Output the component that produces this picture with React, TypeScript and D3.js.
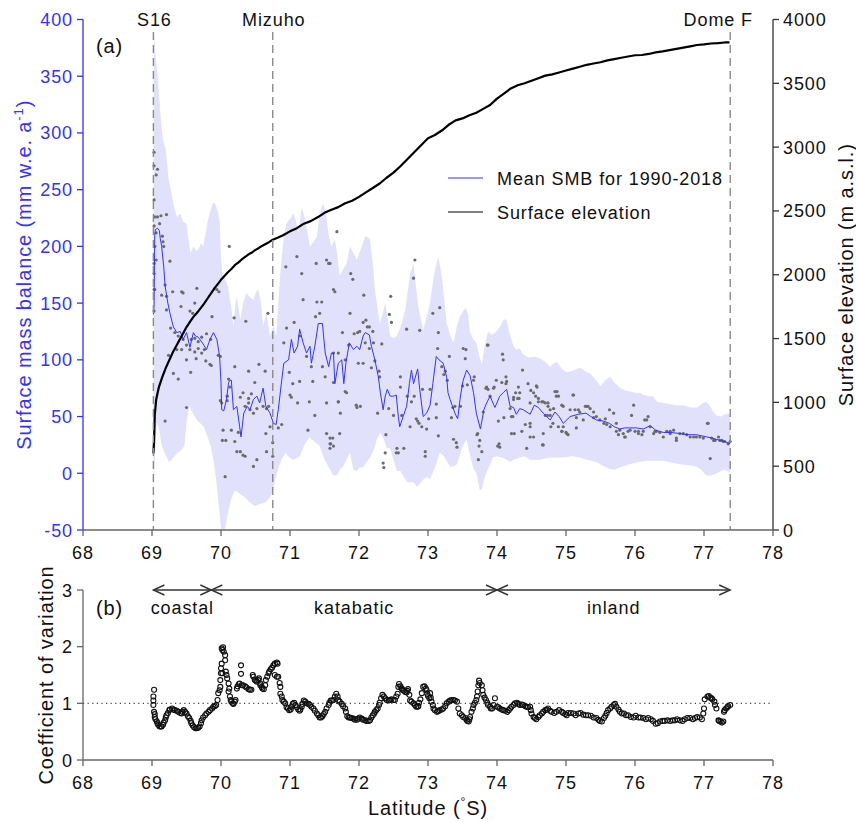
import React from "react";
import * as d3 from "d3";

// ---- data ----
const latTicks = [68, 69, 70, 71, 72, 73, 74, 75, 76, 77, 78];
const smbTicks = [-50, 0, 50, 100, 150, 200, 250, 300, 350, 400];
const elevTicks = [0, 500, 1000, 1500, 2000, 2500, 3000, 3500, 4000];
const cvTicks = [0, 1, 2, 3];

const stations = [
  { name: "S16", lat: 69.02 },
  { name: "Mizuho", lat: 70.75 },
  { name: "Dome F", lat: 77.38 },
];
const zoneBounds = [69.02, 69.86, 74.0, 77.38];
const zoneNames = ["coastal", "katabatic", "inland"];

// [lat, mm w.e. a-1]
const smbMean: [number, number][] = [
  [69.02, 140], [69.03, 148], [69.04, 210], [69.05, 215], [69.08, 216], [69.106, 214], [69.12, 207], [69.14, 200],
  [69.17, 182], [69.19, 165], [69.23, 150], [69.26, 141], [69.31, 129], [69.36, 124], [69.41, 125], [69.45, 118],
  [69.5, 124], [69.55, 111], [69.6, 124], [69.63, 121], [69.67, 120], [69.74, 114], [69.79, 109], [69.84, 118],
  [69.89, 124], [69.94, 118], [69.98, 103], [70.0, 80], [70.01, 56], [70.04, 55], [70.08, 65], [70.11, 80],
  [70.13, 82], [70.15, 82], [70.18, 56], [70.23, 59], [70.27, 41], [70.29, 32], [70.33, 53], [70.38, 59],
  [70.42, 56], [70.47, 65], [70.52, 68], [70.56, 62], [70.61, 75], [70.65, 59], [70.71, 53], [70.76, 44],
  [70.8, 43], [70.83, 56], [70.88, 82], [70.91, 97], [70.98, 100], [71.02, 118], [71.06, 106], [71.11, 112],
  [71.14, 127], [71.19, 115], [71.24, 106], [71.29, 112], [71.31, 97], [71.36, 112], [71.41, 132], [71.47, 132],
  [71.51, 106], [71.56, 94], [71.6, 106], [71.63, 106], [71.65, 79], [71.7, 97], [71.75, 100], [71.78, 79],
  [71.81, 97], [71.86, 115], [71.92, 109], [71.97, 112], [72.01, 109], [72.06, 121], [72.09, 124], [72.15, 122],
  [72.18, 112], [72.23, 100], [72.28, 85], [72.31, 71], [72.35, 56], [72.38, 68], [72.41, 74], [72.45, 68],
  [72.5, 68], [72.54, 69], [72.57, 50], [72.59, 41], [72.64, 50], [72.69, 59], [72.73, 79], [72.76, 91],
  [72.79, 79], [72.85, 92], [72.88, 74], [72.93, 50], [72.98, 53], [73.03, 60], [73.07, 79], [73.12, 103],
  [73.16, 100], [73.22, 97], [73.27, 85], [73.29, 71], [73.32, 65], [73.39, 53], [73.43, 48], [73.47, 68],
  [73.51, 82], [73.56, 91], [73.61, 86], [73.66, 71], [73.7, 53], [73.76, 39], [73.81, 56], [73.85, 62],
  [73.9, 68], [73.94, 62], [73.97, 58], [74.04, 68], [74.09, 71], [74.14, 74], [74.19, 59], [74.24, 58],
  [74.28, 52], [74.33, 57], [74.38, 56], [74.48, 52], [74.54, 60], [74.6, 58], [74.67, 53], [74.77, 47],
  [74.84, 54], [74.9, 50], [74.96, 44], [75.06, 50], [75.18, 52], [75.29, 53], [75.36, 50], [75.44, 47],
  [75.54, 46], [75.63, 44], [75.7, 41], [75.78, 39], [75.85, 40], [75.92, 40], [76.02, 40], [76.12, 39],
  [76.22, 42], [76.3, 38], [76.41, 36], [76.52, 36], [76.65, 35], [76.77, 34], [76.89, 34], [76.97, 33],
  [77.04, 32], [77.12, 31], [77.23, 29], [77.3, 28], [77.38, 26],
];

const smbUpper: [number, number][] = [
  [69.02, 300], [69.03, 389], [69.05, 370], [69.07, 358], [69.1, 335], [69.13, 310], [69.16, 294], [69.2, 285],
  [69.24, 260], [69.28, 247], [69.32, 235], [69.36, 226], [69.41, 229], [69.45, 222], [69.5, 220], [69.53, 205],
  [69.56, 194], [69.6, 200], [69.64, 196], [69.67, 197], [69.71, 203], [69.74, 200], [69.78, 212], [69.81, 223],
  [69.85, 232], [69.88, 238], [69.91, 238], [69.95, 232], [69.98, 223], [70.0, 190], [70.02, 174], [70.06, 171],
  [70.1, 165], [70.14, 150], [70.18, 130], [70.21, 150], [70.23, 156], [70.28, 135], [70.32, 150], [70.37, 159],
  [70.42, 155], [70.47, 153], [70.51, 160], [70.54, 162], [70.58, 150], [70.61, 130], [70.66, 141], [70.71, 121],
  [70.76, 130], [70.8, 121], [70.83, 150], [70.86, 177], [70.91, 209], [70.95, 220], [70.98, 223], [71.02, 226],
  [71.05, 229], [71.09, 222], [71.12, 212], [71.17, 235], [71.22, 223], [71.26, 210], [71.29, 200], [71.34, 204],
  [71.39, 209], [71.43, 229], [71.48, 238], [71.53, 226], [71.56, 210], [71.6, 200], [71.65, 206], [71.68, 195],
  [71.72, 174], [71.77, 180], [71.82, 185], [71.87, 200], [71.92, 194], [71.97, 188], [72.04, 200], [72.09, 209],
  [72.13, 208], [72.16, 206], [72.2, 185], [72.23, 162], [72.27, 145], [72.3, 132], [72.34, 140], [72.38, 150],
  [72.42, 135], [72.45, 121], [72.5, 119], [72.55, 121], [72.62, 132], [72.67, 144], [72.71, 162], [72.74, 176],
  [72.79, 185], [72.82, 168], [72.86, 147], [72.9, 135], [72.93, 126], [72.98, 138], [73.03, 150], [73.07, 168],
  [73.1, 179], [73.15, 191], [73.2, 174], [73.24, 150], [73.27, 132], [73.32, 122], [73.37, 115], [73.42, 130],
  [73.46, 138], [73.5, 142], [73.54, 146], [73.58, 140], [73.61, 124], [73.66, 118], [73.7, 115], [73.75, 102],
  [73.78, 96], [73.82, 112], [73.87, 125], [73.93, 122], [73.99, 125], [74.05, 130], [74.1, 136], [74.14, 135],
  [74.19, 121], [74.24, 112], [74.28, 109], [74.33, 110], [74.38, 105], [74.43, 103], [74.48, 102], [74.55, 103],
  [74.63, 101], [74.7, 98], [74.77, 94], [74.82, 97], [74.87, 98], [74.94, 92], [75.01, 89], [75.08, 90],
  [75.15, 92], [75.21, 93], [75.28, 90], [75.35, 88], [75.42, 83], [75.5, 77], [75.57, 82], [75.64, 85],
  [75.7, 80], [75.79, 75], [75.86, 73], [75.93, 72], [76.0, 71], [76.07, 71], [76.12, 69], [76.2, 68],
  [76.26, 68], [76.32, 63], [76.41, 62], [76.5, 61], [76.6, 60], [76.7, 60], [76.8, 58], [76.9, 58],
  [76.97, 61], [77.03, 63], [77.08, 60], [77.13, 55], [77.18, 51], [77.25, 50], [77.3, 52], [77.38, 53],
];

const smbLower: [number, number][] = [
  [69.02, -25], [69.04, 10], [69.07, 45], [69.1, 40], [69.14, 25], [69.18, 18], [69.25, 10], [69.31, 14],
  [69.37, 18], [69.42, 20], [69.47, 24], [69.5, 45], [69.54, 59], [69.6, 52], [69.65, 47], [69.7, 44],
  [69.75, 41], [69.8, 33], [69.85, 24], [69.9, 8], [69.93, -6], [69.97, -30], [70.0, -48], [70.03, -55],
  [70.06, -48], [70.1, -35], [70.15, -22], [70.2, -15], [70.27, -18], [70.34, -21], [70.41, -25], [70.49, -29],
  [70.56, -27], [70.64, -26], [70.7, -22], [70.74, -18], [70.79, -5], [70.84, 6], [70.89, 14], [70.94, 18],
  [70.99, 14], [71.04, 12], [71.09, 13], [71.14, 15], [71.21, 25], [71.28, 32], [71.35, 28], [71.43, 24],
  [71.5, 12], [71.58, 3], [71.63, -2], [71.68, -2], [71.72, 3], [71.77, 6], [71.82, 12], [71.87, 18],
  [71.92, 3], [71.97, 2], [72.01, 5], [72.06, 5], [72.11, 10], [72.16, 14], [72.21, 20], [72.26, 30],
  [72.31, 36], [72.36, 30], [72.4, 22], [72.45, 22], [72.5, 12], [72.55, 2], [72.6, 2], [72.65, -3],
  [72.7, -8], [72.79, -8], [72.84, -12], [72.9, -8], [72.94, -5], [72.98, -3], [73.03, -5], [73.1, 5],
  [73.17, 18], [73.22, 16], [73.28, 10], [73.32, 6], [73.37, 6], [73.42, 8], [73.46, 16], [73.51, 25],
  [73.56, 30], [73.61, 15], [73.66, 4], [73.7, 0], [73.75, -15], [73.78, -14], [73.83, -2], [73.88, 5],
  [73.94, 14], [74.0, 15], [74.07, 14], [74.14, 12], [74.19, 10], [74.24, 12], [74.33, 14], [74.4, 15],
  [74.48, 12], [74.55, 12], [74.62, 12], [74.7, 13], [74.77, 14], [74.86, 14], [74.96, 14], [75.08, 15],
  [75.2, 14], [75.3, 12], [75.44, 10], [75.55, 6], [75.63, 4], [75.7, 3], [75.78, 5], [75.92, 8],
  [76.05, 10], [76.17, 11], [76.3, 11], [76.41, 11], [76.55, 9], [76.65, 8], [76.78, 7], [76.89, 6],
  [76.96, 3], [77.03, -2], [77.1, -2], [77.19, 0], [77.28, 3], [77.38, 1],
];

// individual-site SMB observations
const smbPoints: [number, number][] = [
  [69.03, 283], [69.03, 271], [69.06, 263], [69.08, 268], [69.03, 241], [69.04, 226], [69.08, 226], [69.13, 227],
  [69.21, 228], [69.03, 218], [69.11, 220], [69.15, 209], [69.16, 204], [69.17, 200], [69.04, 200], [69.06, 212],
  [69.26, 187], [69.03, 185], [69.06, 188], [69.03, 176], [69.03, 162], [69.04, 162], [69.03, 143], [69.19, 166],
  [69.21, 156], [69.3, 160], [69.14, 157], [69.43, 160], [69.45, 159], [69.65, 163], [69.42, 147], [69.55, 143],
  [69.59, 141], [69.62, 150], [69.21, 144], [69.27, 128], [69.33, 124], [69.38, 121], [69.45, 118], [69.5, 113],
  [69.57, 118], [69.62, 119], [69.67, 116], [69.72, 120], [69.79, 123], [69.85, 118], [69.36, 109], [69.43, 109],
  [69.55, 109], [69.62, 107], [69.67, 110], [69.72, 106], [69.76, 109], [69.78, 99], [69.84, 96], [69.86, 95],
  [69.24, 104], [69.31, 88], [69.38, 83], [69.5, 100], [69.56, 89], [69.64, 101], [69.5, 58], [69.19, 46],
  [69.87, 138], [69.94, 162], [69.97, 160], [69.96, 104], [69.99, 103], [70.12, 200], [70.19, 137], [70.2, 94],
  [70.36, 134], [70.4, 90], [70.68, 141], [70.11, 83], [70.13, 76], [70.09, 68], [69.99, 64], [70.01, 62],
  [70.09, 64], [70.28, 67], [70.32, 71], [70.4, 66], [70.44, 70], [70.49, 80], [70.55, 96], [70.64, 90],
  [70.69, 59], [70.35, 59], [70.4, 62], [70.42, 56], [70.47, 53], [70.52, 57], [70.61, 59], [70.66, 57],
  [70.03, 38], [70.15, 38], [70.25, 36], [70.07, 29], [70.02, 29], [70.2, 28], [70.23, 19], [70.28, 19],
  [70.32, 16], [70.35, 15], [70.52, 12], [70.47, 6], [70.66, 19], [70.71, 41], [70.75, 27], [70.75, 15],
  [70.83, 40], [70.88, 43], [70.65, 35], [70.06, -3], [70.91, 115], [70.95, 128], [71.06, 133], [71.14, 121],
  [71.19, 153], [71.39, 151], [71.46, 151], [71.43, 141], [71.37, 138], [71.38, 185], [71.53, 188], [71.56, 185],
  [71.68, 213], [71.1, 191], [71.17, 176], [70.94, 182], [71.63, 162], [71.63, 106], [71.7, 106], [71.24, 103],
  [71.31, 94], [71.47, 94], [71.51, 85], [71.63, 80], [70.99, 89], [71.04, 79], [71.14, 81], [71.33, 81],
  [71.0, 69], [71.02, 67], [71.11, 62], [71.28, 63], [71.36, 51], [71.53, 62], [71.7, 63], [71.26, 38],
  [71.58, 22], [71.59, 26], [71.62, 31], [71.53, 35], [71.58, 185], [71.65, 160], [71.88, 176], [71.91, 171],
  [71.87, 141], [71.76, 124], [71.93, 123], [71.98, 124], [72.07, 157], [72.06, 133], [72.1, 135], [72.12, 129],
  [72.15, 129], [72.2, 125], [72.46, 156], [72.44, 140], [72.47, 133], [72.33, 114], [72.15, 110], [72.09, 115],
  [72.01, 125], [72.21, 115], [72.23, 99], [72.18, 93], [72.29, 90], [72.3, 85], [72.06, 97], [71.99, 97],
  [71.85, 113], [71.8, 100], [72.81, 188], [72.79, 172], [72.88, 126], [72.69, 127], [73.07, 141], [73.17, 146],
  [73.15, 124], [73.14, 110], [73.2, 94], [73.25, 90], [73.28, 82], [73.23, 87], [73.31, 103], [73.51, 110],
  [73.55, 109], [73.54, 101], [73.5, 77], [73.57, 78], [73.67, 85], [73.66, 82], [73.86, 113], [74.08, 105],
  [74.09, 100], [74.13, 85], [74.13, 79], [74.07, 80], [73.99, 82], [73.96, 76], [73.87, 74], [73.84, 75],
  [74.37, 91], [74.45, 79], [74.49, 73], [74.33, 71], [74.3, 66], [74.24, 67], [74.23, 50], [74.1, 49],
  [74.02, 46], [74.21, 35], [74.25, 35], [74.36, 37], [74.43, 22], [74.48, 32], [74.48, 41], [74.03, 26],
  [74.01, 24], [71.7, 63], [71.73, 53], [71.8, 72], [71.82, 71], [71.97, 58], [71.96, 60], [72.02, 59],
  [72.27, 53], [72.43, 57], [72.5, 51], [72.6, 85], [72.6, 76], [72.74, 41], [72.83, 48], [72.85, 46],
  [72.87, 44], [72.91, 41], [72.98, 39], [72.92, 74], [73.03, 74], [73.01, 48], [73.12, 49], [73.15, 33],
  [73.37, 30], [73.34, 49], [73.36, 58], [73.39, 59], [73.41, 27], [73.42, 23], [73.72, 35], [73.71, 34],
  [73.75, 29], [73.74, 24], [73.78, 19], [73.73, 12], [72.39, 34], [72.38, 18], [72.55, 22], [72.57, 18],
  [72.54, 18], [72.65, 22], [72.96, 19], [72.96, 15], [72.35, 9], [72.36, 5], [71.58, 31], [71.58, 26],
  [71.72, 35], [71.63, 24], [72.8, 68], [72.76, 63], [72.62, 51], [72.7, 68], [73.12, 61], [73.47, 59],
  [73.8, 54], [73.87, 113], [73.85, 76], [73.9, 68], [73.95, 75], [74.04, 23], [74.14, 81], [74.19, 57],
  [74.21, 50], [74.24, 65], [74.27, 71], [74.31, 76], [74.32, 66], [74.41, 43], [74.48, 62], [74.48, 44],
  [74.53, 32], [74.58, 76], [74.6, 66], [74.65, 63], [74.67, 25], [74.7, 51], [74.73, 51], [74.77, 51],
  [74.74, 62], [74.82, 57], [74.84, 72], [74.86, 68], [74.89, 41], [74.94, 37], [74.96, 41], [75.01, 35],
  [74.96, 59], [75.11, 69], [75.15, 49], [75.18, 56], [75.2, 54], [75.25, 47], [75.3, 59], [75.35, 57],
  [75.4, 54], [75.44, 50], [75.49, 47], [75.57, 48], [75.64, 41], [75.73, 44], [75.76, 34], [75.85, 32],
  [75.93, 38], [75.95, 51], [75.98, 60], [76.05, 35], [76.12, 37], [76.17, 47], [76.19, 50], [76.27, 35],
  [76.31, 37], [76.41, 32], [76.51, 37], [76.6, 31], [76.7, 35], [76.8, 32], [76.89, 32], [76.99, 31],
  [77.06, 44], [77.09, 13], [77.14, 29], [77.23, 29], [77.28, 28], [77.35, 26], [77.38, 28], [74.57, 77],
  [74.53, 71], [74.56, 68], [74.6, 63], [74.67, 63], [74.7, 62], [74.74, 59], [74.77, 56], [74.87, 72],
  [74.89, 68], [74.94, 60], [74.81, 44], [74.78, 41], [74.67, 35], [74.66, 25], [74.94, 37], [75.0, 36],
  [75.03, 34], [75.1, 69], [75.06, 56], [75.13, 56], [75.15, 40], [75.28, 59], [75.32, 59], [75.4, 49],
  [75.55, 44], [75.59, 43], [75.63, 56], [75.69, 53], [75.73, 37], [75.78, 38], [75.83, 35], [75.86, 32],
  [75.9, 37], [76.0, 37], [76.05, 37], [76.1, 34], [76.14, 47], [76.22, 41], [76.29, 37], [76.36, 36],
  [76.46, 37], [76.51, 35], [76.56, 38], [76.6, 29], [76.65, 35], [76.75, 34], [76.85, 32], [76.94, 32],
  [77.05, 44], [77.11, 31], [77.16, 29], [77.21, 32], [77.26, 29], [77.3, 28],
];

// [lat, m a.s.l.]
const elevation: [number, number][] = [
  [69.02, 600], [69.03, 700], [69.04, 900], [69.06, 1020], [69.1, 1120], [69.15, 1200], [69.2, 1270],
  [69.25, 1330], [69.3, 1390], [69.35, 1440], [69.4, 1490], [69.45, 1540], [69.5, 1590], [69.55, 1630],
  [69.6, 1670], [69.65, 1700], [69.7, 1735], [69.75, 1770], [69.8, 1810], [69.85, 1850], [69.9, 1890],
  [69.95, 1925], [70.0, 1960], [70.05, 1990], [70.1, 2020], [70.15, 2045], [70.2, 2075], [70.25, 2095],
  [70.3, 2120], [70.35, 2140], [70.4, 2160], [70.45, 2175], [70.5, 2195], [70.55, 2210], [70.6, 2228],
  [70.68, 2250], [70.75, 2275], [70.82, 2290], [70.9, 2310], [71.0, 2340], [71.1, 2365], [71.2, 2400],
  [71.3, 2420], [71.4, 2450], [71.5, 2485], [71.6, 2510], [71.7, 2530], [71.8, 2560], [71.9, 2580],
  [72.0, 2610], [72.1, 2645], [72.2, 2680], [72.3, 2715], [72.4, 2760], [72.5, 2800], [72.6, 2850],
  [72.7, 2905], [72.8, 2960], [72.9, 3015], [73.0, 3070], [73.1, 3095], [73.2, 3130], [73.3, 3175],
  [73.4, 3210], [73.5, 3225], [73.6, 3250], [73.7, 3270], [73.8, 3300], [73.9, 3330], [74.0, 3380],
  [74.1, 3420], [74.2, 3460], [74.3, 3485], [74.4, 3500], [74.5, 3520], [74.6, 3540], [74.7, 3560],
  [74.8, 3570], [74.9, 3585], [75.0, 3600], [75.1, 3615], [75.2, 3630], [75.3, 3645], [75.4, 3655],
  [75.5, 3665], [75.6, 3680], [75.7, 3690], [75.8, 3700], [75.9, 3710], [76.0, 3720], [76.1, 3722],
  [76.2, 3730], [76.3, 3742], [76.4, 3750], [76.5, 3760], [76.6, 3770], [76.7, 3780], [76.8, 3790],
  [76.9, 3800], [77.0, 3805], [77.1, 3812], [77.2, 3815], [77.3, 3820], [77.37, 3820],
];

// [lat, coefficient of variation]
const cvPoints: [number, number][] = [
  [69.03, 1.24], [69.02, 1.12], [69.02, 0.97], [69.03, 0.85], [69.04, 0.76], [69.07, 0.68], [69.09, 0.62],
  [69.13, 0.59], [69.16, 0.62], [69.19, 0.7], [69.21, 0.79], [69.25, 0.88], [69.29, 0.91], [69.33, 0.88],
  [69.38, 0.85], [69.43, 0.82], [69.46, 0.88], [69.5, 0.82], [69.54, 0.74], [69.57, 0.65], [69.61, 0.58],
  [69.65, 0.56], [69.69, 0.59], [69.72, 0.7], [69.77, 0.79], [69.82, 0.85], [69.87, 0.91], [69.93, 0.97],
  [69.95, 1.06], [69.96, 1.18], [69.99, 1.29], [70.0, 1.53], [70.01, 1.7], [70.03, 1.99], [70.01, 1.97],
  [70.06, 1.85], [70.02, 1.53], [70.07, 1.56], [70.09, 1.44], [70.11, 1.35], [70.11, 1.21], [70.13, 1.12],
  [70.15, 1.03], [70.18, 0.99], [70.21, 1.06], [70.23, 1.26], [70.27, 1.35], [70.29, 1.52], [70.29, 1.67],
  [70.32, 1.32], [70.37, 1.28], [70.42, 1.24], [70.46, 1.5], [70.49, 1.41], [70.52, 1.38], [70.55, 1.44],
  [70.57, 1.35], [70.59, 1.29], [70.62, 1.25], [70.65, 1.41], [70.69, 1.53], [70.72, 1.6], [70.76, 1.67],
  [70.81, 1.72], [70.78, 1.5], [70.83, 1.47], [70.85, 1.36], [70.86, 1.17], [70.89, 1.06], [70.93, 1.0],
  [70.95, 0.93], [70.99, 0.88], [71.02, 0.94], [71.06, 1.01], [71.1, 0.93], [71.14, 0.87], [71.17, 0.94],
  [71.2, 1.05], [71.24, 1.0], [71.29, 0.97], [71.34, 0.91], [71.39, 0.82], [71.43, 0.75], [71.47, 0.77],
  [71.51, 0.85], [71.56, 0.97], [71.59, 1.05], [71.63, 1.06], [71.67, 1.17], [71.7, 1.06], [71.75, 0.99],
  [71.8, 0.91], [71.83, 0.77], [71.87, 0.75], [71.92, 0.73], [71.97, 0.71], [72.01, 0.75], [72.06, 0.71],
  [72.11, 0.69], [72.16, 0.7], [72.2, 0.79], [72.23, 0.85], [72.27, 0.91], [72.3, 1.01], [72.34, 1.15],
  [72.38, 1.09], [72.43, 1.05], [72.47, 1.07], [72.52, 1.06], [72.56, 1.17], [72.58, 1.34], [72.62, 1.26],
  [72.65, 1.22], [72.69, 1.19], [72.71, 1.25], [72.74, 1.05], [72.79, 1.0], [72.83, 0.94], [72.86, 0.95],
  [72.89, 1.07], [72.93, 1.29], [72.97, 1.26], [72.99, 1.17], [73.03, 1.18], [73.02, 1.09], [73.05, 1.03],
  [73.08, 0.91], [73.13, 0.85], [73.17, 0.88], [73.22, 0.91], [73.27, 1.0], [73.32, 1.05], [73.37, 1.06],
  [73.42, 1.03], [73.44, 0.91], [73.46, 0.82], [73.51, 0.76], [73.56, 0.71], [73.59, 0.68], [73.61, 0.76],
  [73.63, 0.85], [73.66, 0.97], [73.7, 1.06], [73.72, 1.21], [73.74, 1.4], [73.78, 1.32], [73.8, 1.15],
  [73.84, 1.06], [73.87, 0.97], [73.91, 0.91], [73.95, 0.97], [73.97, 1.09], [74.0, 0.94], [74.04, 0.91],
  [74.09, 0.88], [74.15, 0.85], [74.19, 0.91], [74.24, 0.97], [74.29, 1.01], [74.33, 0.97], [74.38, 0.97],
  [74.43, 0.94], [74.48, 0.94], [74.5, 0.82], [74.55, 0.74], [74.6, 0.76], [74.65, 0.82], [74.7, 0.88],
  [74.74, 0.91], [74.79, 0.85], [74.86, 0.85], [74.94, 0.85], [74.99, 0.81], [75.03, 0.83], [75.11, 0.82],
  [75.18, 0.82], [75.25, 0.8], [75.32, 0.79], [75.4, 0.75], [75.47, 0.71], [75.52, 0.68], [75.55, 0.74],
  [75.59, 0.83], [75.64, 0.91], [75.69, 0.97], [75.73, 0.94], [75.78, 0.85], [75.84, 0.82], [75.9, 0.79],
  [75.98, 0.75], [76.05, 0.75], [76.12, 0.74], [76.19, 0.74], [76.26, 0.69], [76.3, 0.64], [76.36, 0.68],
  [76.43, 0.69], [76.51, 0.69], [76.58, 0.7], [76.65, 0.7], [76.72, 0.72], [76.8, 0.74], [76.87, 0.74],
  [76.94, 0.75], [76.99, 0.82], [77.01, 1.07], [77.05, 1.12], [77.09, 1.1], [77.12, 1.07], [77.16, 0.97],
  [77.18, 0.91], [77.21, 0.7], [77.24, 0.68], [77.28, 0.68], [77.29, 0.85], [77.32, 0.91], [77.35, 0.95],
  [77.38, 0.97],
  // second reading pass through the dense chains
  [69.02, 1.05], [69.04, 0.81], [69.05, 0.72], [69.08, 0.65], [69.11, 0.59], [69.14, 0.59], [69.17, 0.66],
  [69.2, 0.75], [69.23, 0.83], [69.26, 0.89], [69.31, 0.89], [69.36, 0.87], [69.41, 0.83], [69.44, 0.85],
  [69.48, 0.85], [69.52, 0.77], [69.56, 0.69], [69.59, 0.61], [69.63, 0.56], [69.67, 0.57], [69.71, 0.65],
  [69.74, 0.75], [69.79, 0.82], [69.84, 0.88], [69.89, 0.94], [69.91, 0.95], [69.98, 1.23], [69.99, 1.41],
  [70.0, 1.62], [70.02, 1.94], [70.04, 1.91], [70.06, 1.76], [70.08, 1.5], [70.12, 1.26], [70.14, 1.06],
  [70.17, 1.0], [70.2, 1.03], [70.24, 1.3], [70.26, 1.34], [70.3, 1.32], [70.35, 1.3], [70.4, 1.25],
  [70.44, 1.24], [70.47, 1.47], [70.51, 1.4], [70.54, 1.41], [70.57, 1.32], [70.6, 1.26], [70.64, 1.32],
  [70.67, 1.47], [70.7, 1.56], [70.74, 1.63], [70.78, 1.7], [70.82, 1.7], [70.81, 1.47], [70.86, 1.29],
  [70.88, 1.12], [70.91, 1.03], [70.97, 0.91], [71.01, 0.89], [71.04, 0.99], [71.08, 0.97], [71.12, 0.89],
  [71.15, 0.89], [71.18, 0.99], [71.22, 1.03], [71.27, 0.99], [71.31, 0.94], [71.36, 0.87], [71.41, 0.79],
  [71.45, 0.75], [71.49, 0.81], [71.53, 0.91], [71.57, 1.01], [71.61, 1.05], [71.65, 1.12], [71.69, 1.12],
  [71.72, 1.03], [71.77, 0.95], [71.81, 0.85], [71.85, 0.75], [71.89, 0.74], [71.94, 0.71], [71.99, 0.73],
  [72.04, 0.73], [72.09, 0.7], [72.14, 0.69], [72.18, 0.75], [72.22, 0.82], [72.25, 0.88], [72.29, 0.97],
  [72.32, 1.09], [72.36, 1.12], [72.4, 1.06], [72.45, 1.06], [72.5, 1.06], [72.54, 1.12], [72.57, 1.29],
  [72.6, 1.3], [72.63, 1.24], [72.67, 1.2], [72.7, 1.22], [72.73, 1.15], [72.76, 1.03], [72.81, 0.97],
  [72.85, 0.94], [72.87, 1.01], [72.91, 1.18], [72.95, 1.3], [72.98, 1.23], [73.0, 1.13], [73.04, 1.1],
  [73.07, 0.97], [73.1, 0.88], [73.15, 0.86], [73.2, 0.89], [73.25, 0.95], [73.3, 1.03], [73.34, 1.06],
  [73.39, 1.05], [73.49, 0.79], [73.54, 0.74], [73.57, 0.69], [73.6, 0.72], [73.65, 0.91], [73.68, 1.01],
  [73.71, 1.12], [73.73, 1.32], [73.75, 1.36], [73.79, 1.23], [73.82, 1.1], [73.86, 1.01], [73.9, 0.94],
  [73.93, 0.91], [74.02, 0.93], [74.07, 0.89], [74.12, 0.87], [74.17, 0.88], [74.21, 0.94], [74.26, 1.0],
  [74.31, 0.99], [74.36, 0.98], [74.41, 0.95], [74.45, 0.93], [74.49, 0.88], [74.53, 0.76], [74.57, 0.72],
  [74.62, 0.79], [74.67, 0.85], [74.72, 0.89], [74.77, 0.87], [74.83, 0.83], [74.9, 0.88], [74.96, 0.83],
  [75.01, 0.79], [75.07, 0.83], [75.14, 0.79], [75.21, 0.83], [75.29, 0.79], [75.36, 0.78], [75.44, 0.74],
  [75.49, 0.69], [75.57, 0.78], [75.61, 0.88], [75.66, 0.94], [75.71, 0.99], [75.76, 0.89], [75.81, 0.82],
  [75.87, 0.79], [75.94, 0.76], [76.01, 0.78], [76.08, 0.75], [76.16, 0.72], [76.23, 0.72], [76.33, 0.65],
  [76.4, 0.69], [76.47, 0.7], [76.55, 0.7], [76.61, 0.72], [76.69, 0.69], [76.76, 0.74], [76.84, 0.72],
  [76.9, 0.76], [76.97, 0.72], [77.0, 0.91], [77.07, 1.13], [77.11, 1.09], [77.15, 1.03], [77.22, 0.69],
  [77.26, 0.66], [77.3, 0.88], [77.34, 0.93],
];

const FONT = "'Liberation Sans', Arial, Helvetica, sans-serif";
const BLUE = "#3434f4";

export default function App() {
  const x = d3.scaleLinear().domain([68, 78]).range([83, 773]);
  const ySmb = d3.scaleLinear().domain([-50, 400]).range([530, 19.5]);
  const yElev = d3.scaleLinear().domain([0, 4000]).range([530, 19.5]);
  const yCv = d3.scaleLinear().domain([0, 3]).range([760, 590]);

  const smbLine = d3.line<[number, number]>().x(d => x(d[0])).y(d => ySmb(d[1]));
  const elevLine = d3.line<[number, number]>().x(d => x(d[0])).y(d => yElev(d[1]));
  const bandPts = smbUpper.concat(smbLower.slice().reverse());
  const bandPath = smbLine(bandPts) + "Z";

  const top = ySmb.range()[1], bottom = ySmb.range()[0];
  const left = x.range()[0], right = x.range()[1];
  const arrowY = yCv(3);

  const txt = { fontFamily: FONT, fontSize: 18, letterSpacing: 0.9 } as const;

  return (
    <svg width={856} height={822} style={{ position: "absolute", left: 0, top: 0, background: "#fff" }}>
      <defs>
        <clipPath id="plotA">
          <rect x={left} y={top} width={right - left} height={bottom - top} />
        </clipPath>
      </defs>

      {/* ---- panel (a) ---- */}
      <g clipPath="url(#plotA)">
        <path d={bandPath} fill="#e1e1fb" stroke="none" />
        {smbPoints.map((d, i) => (
          <circle key={i} cx={x(d[0])} cy={ySmb(d[1])} r={1.6} fill="#6b6b6b" />
        ))}
        <path d={smbLine(smbMean) || ""} fill="none" stroke={BLUE} strokeWidth={1} />
        <path d={elevLine(elevation) || ""} fill="none" stroke="#000" strokeWidth={2.2} strokeLinejoin="round" />
      </g>

      {stations.map(s => (
        <g key={s.name}>
          <line x1={x(s.lat)} x2={x(s.lat)} y1={32} y2={bottom} stroke="#8a8a8a" strokeWidth={1.4} strokeDasharray="8,5" />
          <text
            {...txt}
            x={s.name === "Dome F" ? 753 : x(s.lat) + 1}
            y={26}
            textAnchor={s.name === "Dome F" ? "end" : "middle"}
            fill="#111"
          >
            {s.name}
          </text>
        </g>
      ))}

      {/* left axis */}
      <line x1={left} x2={left} y1={top} y2={bottom} stroke={BLUE} strokeWidth={1.3} />
      {smbTicks.map(t => (
        <g key={t}>
          <line x1={left - 6} x2={left} y1={ySmb(t)} y2={ySmb(t)} stroke={BLUE} strokeWidth={1.3} />
          <text {...txt} x={left - 10} y={ySmb(t) + 6.5} textAnchor="end" fill={BLUE}>{t}</text>
        </g>
      ))}
      <text
        {...txt}
        fontSize={20}
        fill={BLUE}
        transform={`translate(31,${(top + bottom) / 2}) rotate(-90)`}
        textAnchor="middle"
      >
        Surface mass balance (mm w.e. a<tspan dy={-8} fontSize={13}>-1</tspan><tspan dy={8}>)</tspan>
      </text>

      {/* right axis */}
      <line x1={right} x2={right} y1={top} y2={bottom} stroke="#333" strokeWidth={1.3} />
      {elevTicks.map(t => (
        <g key={t}>
          <line x1={right} x2={right + 6} y1={yElev(t)} y2={yElev(t)} stroke="#333" strokeWidth={1.3} />
          <text {...txt} x={right + 10} y={yElev(t) + 6.5} textAnchor="start" fill="#111">{t}</text>
        </g>
      ))}
      <text
        {...txt}
        fontSize={20}
        fill="#111"
        transform={`translate(853,${(top + bottom) / 2}) rotate(-90)`}
        textAnchor="middle"
      >
        Surface elevation (m a.s.l.)
      </text>

      {/* bottom axis of (a) */}
      <line x1={left} x2={right} y1={bottom} y2={bottom} stroke="#666" strokeWidth={1.3} />
      {latTicks.map(t => (
        <g key={t}>
          <line x1={x(t)} x2={x(t)} y1={bottom} y2={bottom + 6} stroke="#666" strokeWidth={1.3} />
          <text {...txt} x={x(t)} y={bottom + 29} textAnchor="middle" fill="#111">{t}</text>
        </g>
      ))}

      <text {...txt} fontSize={20} x={96} y={53} fill="#111">(a)</text>

      {/* legend */}
      <line x1={448} x2={483} y1={178} y2={178} stroke={BLUE} strokeWidth={1.2} />
      <text {...txt} x={497} y={185} fill="#111">Mean SMB for 1990-2018</text>
      <line x1={448} x2={483} y1={212} y2={212} stroke="#000" strokeWidth={1.2} />
      <text {...txt} x={497} y={219} fill="#111">Surface elevation</text>

      {/* ---- panel (b) ---- */}
      <line x1={left} x2={right} y1={yCv(1)} y2={yCv(1)} stroke="#444" strokeWidth={1.1} strokeDasharray="1.2,3.4" />
      {cvPoints.map((d, i) => (
        <circle key={i} cx={x(d[0])} cy={yCv(d[1])} r={2.5} fill="none" stroke="#111" strokeWidth={1.1} />
      ))}

      {zoneNames.map((name, i) => {
        const x0 = x(zoneBounds[i]);
        const x1 = x(zoneBounds[i + 1]);
        return (
          <g key={name} stroke="#333" strokeWidth={1.4} fill="none">
            <line x1={x0} x2={x1} y1={arrowY} y2={arrowY} />
            <path d={`M${x0 + 11},${arrowY - 5}L${x0},${arrowY}L${x0 + 11},${arrowY + 5}`} />
            <path d={`M${x1 - 11},${arrowY - 5}L${x1},${arrowY}L${x1 - 11},${arrowY + 5}`} />
            <text {...txt} stroke="none" fill="#111" x={(x0 + x1) / 2} y={arrowY + 24} textAnchor="middle">
              {name}
            </text>
          </g>
        );
      })}

      <line x1={left} x2={left} y1={yCv(3)} y2={yCv(0)} stroke="#666" strokeWidth={1.3} />
      {cvTicks.map(t => (
        <g key={t}>
          <line x1={left - 6} x2={left} y1={yCv(t)} y2={yCv(t)} stroke="#666" strokeWidth={1.3} />
          <text {...txt} x={left - 10} y={yCv(t) + 6.5} textAnchor="end" fill="#111">{t}</text>
        </g>
      ))}
      <line x1={left} x2={right} y1={yCv(0)} y2={yCv(0)} stroke="#666" strokeWidth={1.3} />
      {latTicks.map(t => (
        <g key={t}>
          <line x1={x(t)} x2={x(t)} y1={yCv(0)} y2={yCv(0) + 6} stroke="#666" strokeWidth={1.3} />
          <text {...txt} x={x(t)} y={yCv(0) + 29} textAnchor="middle" fill="#111">{t}</text>
        </g>
      ))}
      <text
        {...txt}
        fontSize={20}
        fill="#111"
        transform={`translate(53,${(yCv(0) + yCv(3)) / 2}) rotate(-90)`}
        textAnchor="middle"
      >
        Coefficient of variation
      </text>
      <text {...txt} fontSize={20} x={428} y={815} textAnchor="middle" fill="#111">
        Latitude (<tspan dy={-9} fontSize={12}>°</tspan><tspan dy={9}>S)</tspan>
      </text>
      <text {...txt} fontSize={20} x={96} y={615} fill="#111">(b)</text>
    </svg>
  );
}
